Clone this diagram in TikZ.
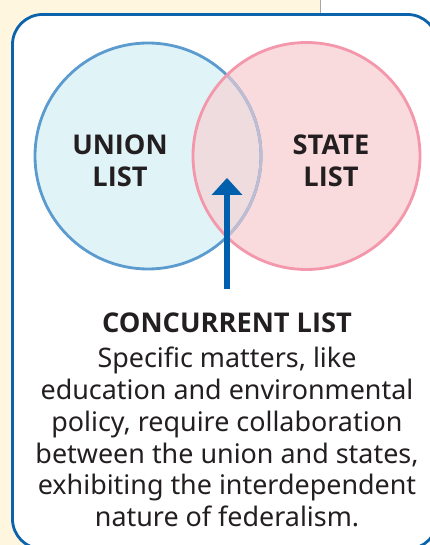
\documentclass[tikz,border=0pt]{standalone}
\usepackage{fontspec}
\setmainfont{Noto Sans}
\newfontfamily\labfont{Open Sans}
\definecolor{cream}{HTML}{FEF6DF}
\definecolor{boxblue}{HTML}{0B63AC}
\definecolor{arrowblue}{HTML}{0060AE}
\definecolor{lfill}{HTML}{E0F3F7}
\definecolor{lstroke}{HTML}{5B9BD0}
\definecolor{rfill}{HTML}{F9DADD}
\definecolor{rstroke}{HTML}{F497AB}
\definecolor{ofill}{HTML}{EEDCDF}
\definecolor{ostroke}{HTML}{C0BCD2}
\definecolor{ink}{HTML}{231F20}
\tikzset{
  vennlabel/.style={font=\labfont\bfseries\fontsize{27.2}{32}\selectfont, text=ink, align=center, inner sep=0pt},
  bodytext/.style={font=\fontsize{26.9}{31.8}\selectfont, text=ink, align=center, inner sep=0pt},
  ring/.style={line width=2.8pt},
}
\begin{document}
\begin{tikzpicture}[x=1pt,y=-1pt]
\useasboundingbox (0,0) rectangle (430,545);
\fill[white] (0,0) rectangle (430,545);
\fill[cream] (0,0) rectangle (320,40);
\fill[cream] (0,0) rectangle (40,545);
\draw[gray!70, line width=0.8pt] (320.3,0) -- (320.3,16);
\begin{scope}
\clip (0,0) rectangle (430,545);
\draw[boxblue, fill=white, line width=2.8pt, rounded corners=30pt] (12.5,14.5) rectangle (437.5,549);
\end{scope}
\coordinate (lc) at (148,156);
\coordinate (rc) at (306.5,156);
\fill[lfill] (lc) circle (113);
\fill[rfill] (rc) circle (113.5);
\begin{scope}
\clip (lc) circle (113);
\fill[ofill] (rc) circle (113.5);
\end{scope}
\draw[ring, lstroke] (lc) circle (113);
\begin{scope}
\clip (rc) circle (113.5);
\draw[ring, ostroke] (lc) circle (113);
\end{scope}
\draw[ring, rstroke] (rc) circle (113.5);
\node[vennlabel] (union) at (120,160.5) {UNION\\LIST};
\node[vennlabel] (state) at (331,160.5) {STATE\\LIST};
\coordinate (tail) at (227,289);
\coordinate (tip) at (227,178);
\draw[arrowblue, line width=5.4pt] (tail) -- (227,192);
\fill[arrowblue] (tip) -- (242.3,194.8) -- (211.7,194.8) -- cycle;
\node[vennlabel] (title) at (227,323) {CONCURRENT LIST};
\node[bodytext] (body) at (227,437) {Specific matters, like\\education and environmental\\policy, require collaboration\\between the union and states,\\exhibiting the interdependent\\nature of federalism.};
\end{tikzpicture}
\end{document}
